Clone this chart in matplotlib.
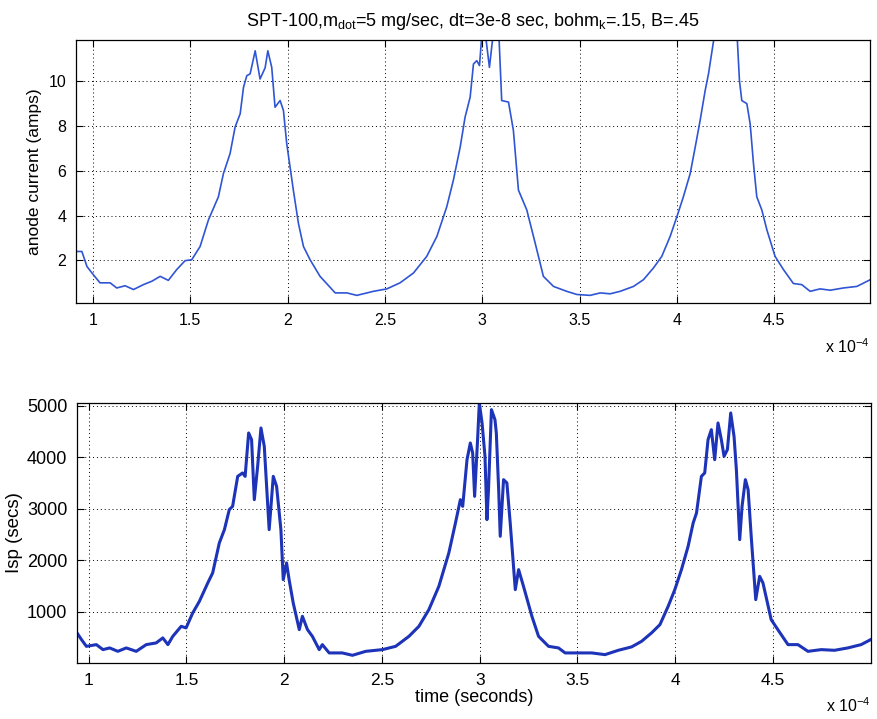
import matplotlib.pyplot as plt
import numpy as np

plt.rcParams['font.family'] = ['Liberation Sans', 'DejaVu Sans']

# time axis values are in units of 1e-4 s
t_anode = [0.914, 0.944, 0.97, 1.003, 1.037, 1.089, 1.123, 1.166, 1.209, 1.26,
           1.303, 1.346, 1.388, 1.431, 1.474, 1.508, 1.551, 1.594, 1.645, 1.671,
           1.705, 1.731, 1.757, 1.774, 1.791, 1.808, 1.834, 1.859, 1.885, 1.899,
           1.919, 1.936, 1.962, 1.979, 1.996, 2.03, 2.056, 2.082, 2.116, 2.167,
           2.245, 2.305, 2.356, 2.441, 2.51, 2.578, 2.647, 2.715, 2.767, 2.818,
           2.852, 2.887, 2.912, 2.938, 2.955, 2.972, 2.986, 3.0, 3.015, 3.037,
           3.06, 3.085, 3.1, 3.135, 3.16, 3.186, 3.229, 3.272, 3.314, 3.366,
           3.434, 3.486, 3.554, 3.606, 3.657, 3.708, 3.777, 3.828, 3.879, 3.922,
           3.965, 4.0, 4.033, 4.068, 4.094, 4.119, 4.145, 4.162, 4.188, 4.22,
           4.27, 4.308, 4.321, 4.333, 4.359, 4.376, 4.393, 4.41, 4.436, 4.462,
           4.504, 4.547, 4.598, 4.641, 4.684, 4.735, 4.787, 4.855, 4.924, 4.993]
anode = [2.40, 2.40, 1.73, 1.36, 1.0, 1.0, 0.77, 0.87, 0.70, 0.92,
         1.07, 1.29, 1.11, 1.59, 1.99, 2.03, 2.62, 3.81, 4.84, 5.88,
         6.77, 7.96, 8.55, 9.73, 10.25, 10.33, 11.36, 10.1, 10.6, 11.36,
         10.62, 8.84, 9.14, 8.70, 7.22, 5.14, 3.66, 2.62, 2.03, 1.29,
         0.55, 0.55, 0.44, 0.62, 0.73, 1.0, 1.44, 2.18, 3.07, 4.4,
         5.59, 7.07, 8.4, 9.29, 10.77, 10.92, 10.7, 12.3, 12.2, 10.62,
         12.4, 12.2, 9.14, 9.07, 7.81, 5.14, 4.25, 2.77, 1.29, 0.84,
         0.62, 0.48, 0.44, 0.55, 0.51, 0.62, 0.84, 1.14, 1.66, 2.18,
         3.07, 3.96, 4.84, 5.88, 7.07, 8.25, 9.59, 10.33, 11.8, 12.6,
         12.8, 12.2, 10.03, 9.14, 9.0, 8.1, 6.33, 4.84, 4.25, 3.36,
         2.18, 1.59, 0.97, 0.92, 0.62, 0.73, 0.67, 0.77, 0.84, 1.14]

t_isp = [0.94, 0.963, 0.988, 1.039, 1.073, 1.107, 1.149, 1.192, 1.243, 1.294,
         1.345, 1.379, 1.405, 1.43, 1.473, 1.498, 1.532, 1.566, 1.609, 1.634,
         1.668, 1.694, 1.719, 1.736, 1.762, 1.787, 1.8, 1.818, 1.833, 1.847,
         1.864, 1.881, 1.898, 1.912, 1.923, 1.944, 1.961, 1.983, 1.995, 2.012,
         2.025, 2.046, 2.077, 2.093, 2.119, 2.144, 2.179, 2.195, 2.23, 2.297,
         2.349, 2.417, 2.502, 2.57, 2.638, 2.689, 2.74, 2.791, 2.842, 2.876,
         2.901, 2.913, 2.935, 2.952, 2.964, 2.974, 2.99, 2.998, 3.012, 3.027,
         3.037, 3.045, 3.06, 3.078, 3.085, 3.097, 3.105, 3.122, 3.139, 3.156,
         3.182, 3.199, 3.224, 3.267, 3.301, 3.352, 3.403, 3.437, 3.497, 3.573,
         3.641, 3.709, 3.777, 3.828, 3.879, 3.922, 3.964, 3.998, 4.032, 4.066,
         4.092, 4.109, 4.134, 4.151, 4.168, 4.185, 4.202, 4.219, 4.236, 4.25,
         4.267, 4.284, 4.301, 4.313, 4.33, 4.342, 4.359, 4.373, 4.39, 4.412,
         4.432, 4.449, 4.491, 4.525, 4.577, 4.628, 4.679, 4.747, 4.815, 4.883,
         4.951, 5.0]
isp = [593, 463, 333, 366, 269, 302, 236, 302, 236, 366,
       399, 496, 366, 527, 721, 690, 981, 1205, 1562, 1756,
       2337, 2595, 2983, 3047, 3628, 3694, 3628, 4469, 4340, 3176,
       3822, 4566, 4209, 3306, 2595, 3628, 3434, 2595, 1626, 1950,
       1626, 1174, 657, 915, 657, 527, 269, 366, 205, 205,
       159, 236, 269, 333, 527, 721, 1045, 1496, 2143, 2725,
       3176, 3047, 3951, 4275, 4081, 3240, 4403, 5050, 4663, 4016,
       2789, 3370, 4921, 4727, 4469, 3370, 2466, 3564, 3500, 2725,
       1432, 1820, 1496, 915, 527, 333, 302, 205, 205, 205,
       172, 256, 322, 430, 593, 754, 1109, 1432, 1820, 2271,
       2725, 2917, 3628, 3694, 4340, 4533, 3951, 4663, 4340, 4016,
       4146, 4857, 4403, 3757, 2401, 3047, 3564, 3370, 2401, 1238,
       1690, 1562, 851, 657, 366, 366, 236, 269, 256, 302,
       366, 463]

x_ticks = [1, 1.5, 2, 2.5, 3, 3.5, 4, 4.5]
x_tick_labels = ['1', '1.5', '2', '2.5', '3', '3.5', '4', '4.5']
anode_ticks = [2, 4, 6, 8, 10]
isp_ticks = [1000, 2000, 3000, 4000, 5000]

fig = plt.figure(figsize=(8.77, 7.19), dpi=100)
ax1 = fig.add_axes([0.0867, 0.5786, 0.905, 0.366])
ax2 = fig.add_axes([0.0878, 0.0779, 0.905, 0.3616])

ax1.plot(t_anode, anode, color='#2f55d4', lw=1.2)
ax2.plot(t_isp, isp, color='#1d33b8', lw=2.2)

ax1.set_xlim(0.914, 4.99)
ax1.set_ylim(0.1, 11.85)
ax1.set_yticks(anode_ticks)
ax1.set_ylabel('anode current (amps)', fontsize=12.5, labelpad=5)
ax1.set_title('SPT-100,m$_\\mathregular{dot}$=5 mg/sec, dt=3e-8 sec, '
              'bohm$_\\mathregular{k}$=.15, B=.45', fontsize=13, pad=10)

ax2.set_xlim(0.94, 5.0)
ax2.set_ylim(10, 5050)
ax2.set_yticks(isp_ticks)
ax2.set_ylabel('Isp (secs)', fontsize=13.5, labelpad=3)
ax2.set_xlabel('time (seconds)', fontsize=13, labelpad=1)

for ax in (ax1, ax2):
    ax.set_xticks(x_ticks)
    ax.set_xticklabels(x_tick_labels)
    ax.tick_params(direction='in', top=True, right=True, length=5,
                   width=0.8, labelsize=11.5, pad=7)
    ax.grid(True, color='k', linestyle=(0, (1, 3)), linewidth=0.7)
    for s in ax.spines.values():
        s.set_linewidth(0.9)
    ax.text(1.0, -0.13, 'x 10$^{\\mathregular{-4}}$', transform=ax.transAxes,
            ha='right', va='top', fontsize=11.5)

ax2.tick_params(axis='y', labelsize=13)
ax2.tick_params(axis='x', labelsize=12.5)

fig.savefig('out.png', dpi=100)
